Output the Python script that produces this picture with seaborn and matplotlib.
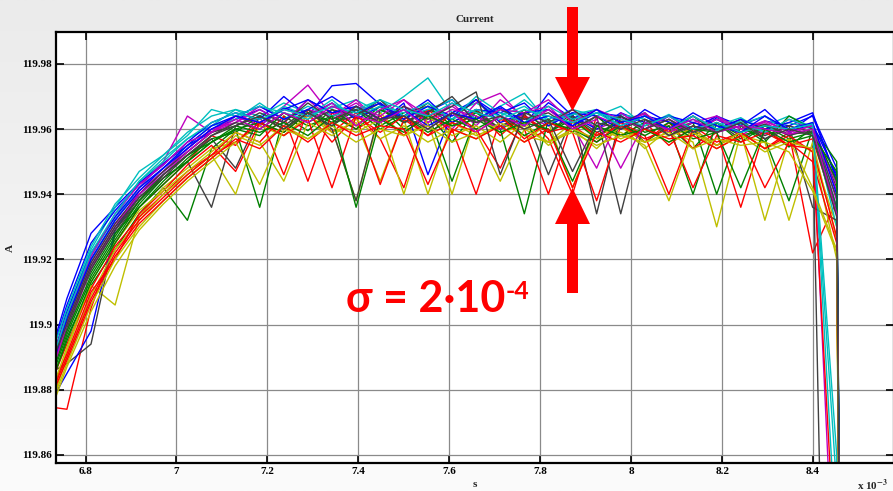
import numpy as np
import pandas as pd
import matplotlib
matplotlib.use("Agg")
import matplotlib.pyplot as plt
import seaborn as sns
from matplotlib.colors import LinearSegmentedColormap
from matplotlib.patches import Polygon
from matplotlib.ticker import FuncFormatter, FixedLocator

# sample instants (in units of 1e-3 s)
TIME = [6.706, 6.759, 6.812, 6.865, 6.918, 6.971, 7.024, 7.077, 7.130, 7.183,
        7.236, 7.289, 7.342, 7.395, 7.448, 7.500, 7.553, 7.606, 7.659, 7.712,
        7.765, 7.818, 7.871, 7.924, 7.977, 8.030, 8.083, 8.136, 8.188, 8.241,
        8.294, 8.347, 8.399, 8.452, 8.505]

# current of each shot, stored as 0.1 mA steps above 119.9 A
I_OFFSET = 119.9
I_UNIT = 1e-4

run01 = [-170, 80, 280, 360, 435, 495, 550, 590, 640, 610, 665, 640, 733, 740, 675, 620, 654, 690, 630, 665, 610, 681, 633, 660, 600, 641, 622, 583, 635, 612, 640, 591, 643, 480, -9000]
run02 = [-260, -40, 120, 230, 340, 420, 320, 540, 600, 360, 640, 595, 660, 610, 670, 600, 645, 560, 655, 600, 635, 590, 640, 580, 625, 560, 610, 540, 620, 580, 600, 545, 605, 500, -9000]
run03 = [-250, -260, 50, 250, 360, 430, 500, 580, 550, 640, 460, 660, 590, 650, 570, 420, 650, 590, 660, 580, 645, 570, 400, 640, 580, 620, 550, 610, 560, 590, 540, 590, 220, 380, -9000]
run04 = [-150, 40, 230, 360, 470, 520, 590, 640, 660, 640, 680, 650, 665, 690, 650, 700, 757, 650, 680, 640, 690, 630, 660, 640, 670, 610, 645, 600, 630, 615, 640, 590, 620, -700, -9000]
run05 = [-200, 20, 200, 320, 420, 500, 640, 590, 640, 610, 670, 735, 640, 680, 630, 670, 620, 680, 610, 690, 640, 610, 660, 600, 630, 645, 590, 640, 600, 620, 585, 630, 600, -1000, -9000]
run06 = [-300, -80, 120, 60, 330, 420, 480, 540, 560, 610, 580, 640, 600, 380, 650, 580, 620, 400, 640, 590, 610, 560, 620, 580, 610, 540, 600, 560, 300, 590, 540, 570, 530, 300, -9000]
run07 = [-160, -120, -60, 280, 380, 450, 500, 360, 610, 640, 600, 660, 620, 640, 680, 620, 660, 630, 690, 610, 640, 590, 650, 340, 640, 600, 630, 580, 620, 570, 610, 585, 590, -3000, -9000]
run08 = [-280, -150, -20, 290, 400, 470, 540, 600, 630, 660, 620, 690, 650, 660, 620, 680, 460, 650, 690, 640, 610, 710, 640, 600, 650, 620, 640, 600, 630, 590, 625, 610, 640, 450, -9000]
run09 = [-220, 10, 160, 280, 360, 440, 510, 570, 590, 640, 600, 650, 620, 670, 610, 650, 670, 610, 650, 600, 340, 630, 590, 640, 580, 620, 600, 620, 400, 610, 570, 380, 600, 420, -9000]
run10 = [-240, -60, 110, 240, 330, 400, 470, 520, 590, 560, 640, 440, 650, 600, 640, 580, 660, 600, 400, 630, 600, 400, 630, 580, 610, 560, 620, 540, 590, 360, 600, 550, 570, 340, -9000]
run11 = [-180, 30, 210, 330, 440, 510, 570, 610, 660, 620, 670, 640, 690, 630, 670, 640, 660, 690, 630, 670, 710, 620, 650, 610, 645, 630, 600, 640, 595, 625, 610, 640, 605, 300, -9000]
run12 = [-210, 10, 190, 310, 400, 470, 540, 600, 620, 670, 630, 660, 640, 690, 620, 670, 640, 600, 680, 710, 630, 660, 610, 480, 650, 600, 630, 590, 640, 580, 625, 595, 610, 430, -9000]
run13 = [-320, -100, 90, 230, 320, 400, 460, 520, 400, 620, 580, 640, 590, 620, 440, 630, 400, 620, 580, 610, 560, 620, 420, 610, 570, 600, 560, 590, 550, 580, 560, 320, 560, 260, -9000]
run14 = [-190, 0, 170, 290, 380, 460, 520, 570, 480, 640, 610, 660, 600, 380, 660, 630, 680, 620, 660, 600, 650, 460, 640, 590, 620, 650, 580, 620, 600, 630, 570, 610, 360, 320, -9000]
run15 = [-170, 60, 250, 350, 430, 490, 560, 620, 650, 630, 700, 640, 680, 630, 670, 640, 690, 620, 660, 650, 680, 610, 650, 640, 600, 660, 620, 600, 640, 610, 660, 590, 615, 460, -9000]
run16 = [-240, -30, 140, 260, 370, 450, 500, 560, 600, 580, 650, 610, 640, 600, 660, 620, 650, 440, 640, 600, 660, 590, 630, 570, 640, 590, 610, 400, 620, 560, 610, 570, 590, 350, -9000]
run17 = [-260, -90, 100, 200, 340, 410, 490, 550, 470, 620, 590, 650, 560, 640, 430, 630, 580, 650, 600, 480, 640, 590, 610, 560, 620, 580, 400, 600, 550, 590, 540, 580, 530, -800, -9000]
run18 = [-190, 20, 200, 320, 420, 480, 550, 610, 630, 680, 630, 670, 640, 660, 690, 640, 670, 630, 660, 640, 670, 620, 645, 660, 610, 640, 600, 630, 610, 635, 590, 620, 600, -500, -9000]
run19 = [-220, -20, 170, 300, 410, 470, 530, 590, 620, 660, 620, 690, 630, 670, 640, 690, 620, 660, 640, 600, 650, 670, 600, 640, 610, 650, 590, 620, 640, 600, 620, 580, 615, 380, -9000]
run20 = [-280, -70, 130, 250, 350, 410, 470, 530, 590, 560, 440, 620, 580, 630, 570, 610, 560, 600, 570, 620, 580, 560, 600, 540, 610, 560, 580, 600, 550, 590, 320, 570, 420, 230, -9000]
run21 = [-210, -10, 170, 290, 390, 450, 520, 580, 620, 600, 650, 620, 660, 640, 690, 620, 650, 700, 620, 660, 630, 650, 600, 640, 340, 630, 600, 640, 590, 620, 580, 610, 590, 390, -9000]
run22 = [-200, 40, 220, 330, 420, 480, 550, 610, 640, 670, 630, 660, 700, 650, 680, 630, 670, 640, 690, 620, 650, 660, 610, 650, 640, 600, 640, 620, 600, 630, 600, 620, 650, 440, -9000]
run23 = [-230, -20, 150, 270, 380, 460, 520, 560, 600, 620, 590, 650, 610, 660, 600, 640, 590, 630, 600, 640, 580, 620, 600, 560, 610, 580, 620, 570, 590, 610, 560, 640, 600, 440, -9000]
run24 = [-270, -100, 80, 220, 320, 390, 460, 520, 560, 620, 580, 630, 420, 640, 590, 640, 580, 620, 590, 640, 570, 620, 590, 380, 610, 570, 600, 420, 580, 560, 590, 550, 540, 270, -9000]
run25 = [-170, 50, 240, 370, 450, 520, 580, 660, 640, 670, 650, 630, 680, 640, 670, 650, 680, 630, 700, 650, 620, 670, 630, 650, 610, 640, 600, 640, 600, 620, 590, 630, 605, 360, -9000]
run26 = [-190, 30, 210, 340, 430, 490, 560, 590, 640, 620, 660, 640, 680, 610, 660, 690, 640, 670, 620, 660, 650, 690, 620, 660, 630, 600, 640, 590, 630, 600, 625, 590, 610, 410, -9000]
run27 = [-310, -120, 60, 200, 300, 380, 450, 510, 580, 550, 610, 570, 620, 590, 630, 400, 640, 580, 610, 560, 620, 550, 600, 570, 590, 550, 380, 590, 540, 580, 530, 560, 540, 200, -9000]
run28 = [-200, 10, 190, 310, 400, 470, 530, 590, 610, 650, 620, 680, 630, 660, 620, 670, 630, 670, 714, 460, 650, 620, 660, 610, 640, 600, 630, 590, 620, 590, 615, 580, 600, 360, -9000]
run29 = [-230, 20, 200, 320, 410, 480, 540, 600, 640, 620, 660, 690, 650, 670, 630, 660, 610, 650, 630, 670, 620, 640, 610, 660, 620, 640, 600, 650, 610, 590, 640, 600, 620, 400, -9000]
run30 = [-250, -50, 130, 250, 360, 430, 500, 560, 610, 590, 620, 580, 640, 360, 630, 590, 640, 610, 630, 590, 620, 600, 440, 610, 580, 600, 560, 600, 590, 420, 600, 560, 580, 470, -9000]
run31 = [-280, -110, 70, 210, 310, 380, 450, 510, 570, 540, 610, 560, 620, 580, 610, 600, 430, 600, 570, 610, 560, 600, 420, 590, 560, 600, 570, 580, 540, 580, 420, 560, 500, 250, -9000]
run32 = [-200, 30, 220, 340, 440, 500, 570, 620, 650, 630, 660, 640, 670, 650, 690, 660, 640, 680, 650, 630, 660, 640, 620, 650, 630, 610, 640, 600, 620, 590, 610, 600, 615, -400, -9000]
run33 = [-230, 0, 180, 300, 400, 460, 530, 590, 630, 600, 650, 620, 670, 640, 620, 660, 600, 650, 590, 640, 610, 660, 600, 630, 480, 620, 600, 630, 590, 610, 600, 585, 600, 340, -9000]
run34 = [-330, -130, 40, 180, 290, 370, 440, 500, 560, 430, 600, 570, 610, 560, 600, 580, 610, 560, 590, 440, 600, 560, 590, 550, 580, 560, 590, 540, 570, 550, 560, 530, 410, 220, -9000]
run35 = [-180, 0, 180, 300, 390, 460, 520, 580, 610, 640, 600, 650, 610, 670, 630, 640, 600, 650, 620, 640, 600, 630, 470, 620, 600, 630, 580, 610, 590, 620, 570, 600, 580, 330, -9000]

RUNS = [run01, run02, run03, run04, run05, run06, run07, run08, run09, run10,
        run11, run12, run13, run14, run15, run16, run17, run18, run19, run20,
        run21, run22, run23, run24, run25, run26, run27, run28, run29, run30,
        run31, run32, run33, run34, run35]

# classic b, g, r, c, m, y, k colour order
LINE_COLORS = [(0, 0, 1), (0, 0.5, 0), (1, 0, 0), (0, 0.75, 0.75),
               (0.75, 0, 0.75), (0.75, 0.75, 0), (0.25, 0.25, 0.25)]

X_TICKS = [6.8, 7.0, 7.2, 7.4, 7.6, 7.8, 8.0, 8.2, 8.4]
Y_TICKS = [119.86, 119.88, 119.90, 119.92, 119.94, 119.96, 119.98]

# long-form table: one row per sample
rows = []
names = []
for n, vals in enumerate(RUNS):
    if len(vals) != len(TIME):
        raise ValueError(f"run {n + 1} has {len(vals)} samples")
    name = f"run{n + 1:02d}"
    names.append(name)
    for t, v in zip(TIME, vals):
        rows.append((t, I_OFFSET + v * I_UNIT, name))
df = pd.DataFrame(rows, columns=["time", "current", "run"])
palette = {name: LINE_COLORS[i % len(LINE_COLORS)] for i, name in enumerate(names)}

sns.set_style("ticks")
plt.rcParams["font.family"] = ["Liberation Serif", "DejaVu Serif"]
plt.rcParams["mathtext.fontset"] = "stix"

W, H = 893, 491
fig = plt.figure(figsize=(W / 100, H / 100), dpi=100)

# soft grey window background
bg = fig.add_axes([0, 0, 1, 1], zorder=-10)
shade = LinearSegmentedColormap.from_list("shade", ["#ebebeb", "#fbfbfb"])
bg.imshow(np.linspace(0, 1, 256).reshape(-1, 1), cmap=shade, aspect="auto",
          extent=[0, 1, 0, 1])
bg.set_axis_off()

ax = fig.add_axes([56 / W, 28 / H, 838 / W, 431 / H])
ax.set_facecolor("white")

sns.lineplot(data=df, x="time", y="current", hue="run", palette=palette,
             hue_order=names, estimator=None, sort=False, legend=False,
             linewidth=1.0, ax=ax)

ax.set_xlim(6.735, 8.578)
ax.set_ylim(119.8575, 119.9898)
ax.xaxis.set_major_locator(FixedLocator(X_TICKS))
ax.yaxis.set_major_locator(FixedLocator(Y_TICKS))
fmt = FuncFormatter(lambda v, _: f"{v:g}")
ax.xaxis.set_major_formatter(fmt)
ax.yaxis.set_major_formatter(fmt)

ax.grid(True, color="#8a8a8a", linewidth=0.9)
ax.set_axisbelow(True)
ax.tick_params(direction="in", length=6, width=1.2, top=True, right=True,
               labelsize=8, pad=3, colors="black")
for lab in ax.get_xticklabels() + ax.get_yticklabels():
    lab.set_fontweight("bold")
for side in ax.spines.values():
    side.set_linewidth(1.6)
    side.set_color("black")

ax.set_title("Current", fontsize=8, fontweight="bold", pad=7)
ax.set_xlabel("s", fontsize=8, fontweight="bold", labelpad=3)
ax.set_ylabel("A", fontsize=8, fontweight="bold", labelpad=5)
fig.text(888 / W, 1 - 485 / H, r"x 10$^{\mathbf{-3}}$", fontsize=8,
         fontweight="bold", ha="right", va="center")


def fig_xy(points):
    return [(x / W, 1 - y / H) for x, y in points]


# spread markers
down_arrow = [(567, 7), (578, 7), (578, 77), (590, 77), (572.5, 111),
              (555, 77), (567, 77)]
up_arrow = [(572.5, 188), (590, 224), (578, 224), (578, 293), (567, 293),
            (567, 224), (555, 224)]
for pts in (down_arrow, up_arrow):
    fig.add_artist(Polygon(fig_xy(pts), closed=True, transform=fig.transFigure,
                           facecolor="#ff0000", edgecolor="none", zorder=20))

sigma_font = ["Lato", "Open Sans", "DejaVu Sans"]
fig.text(346 / W, 1 - 312 / H, "σ = 2·10", color="#ff0000", fontsize=31,
         fontweight="bold", family=sigma_font, ha="left", va="baseline",
         zorder=21)
fig.text(506 / W, 1 - 299 / H, "-4", color="#ff0000", fontsize=18,
         fontweight="bold", family=sigma_font, ha="left", va="baseline",
         zorder=21)

fig.savefig("out.png", dpi=100)
